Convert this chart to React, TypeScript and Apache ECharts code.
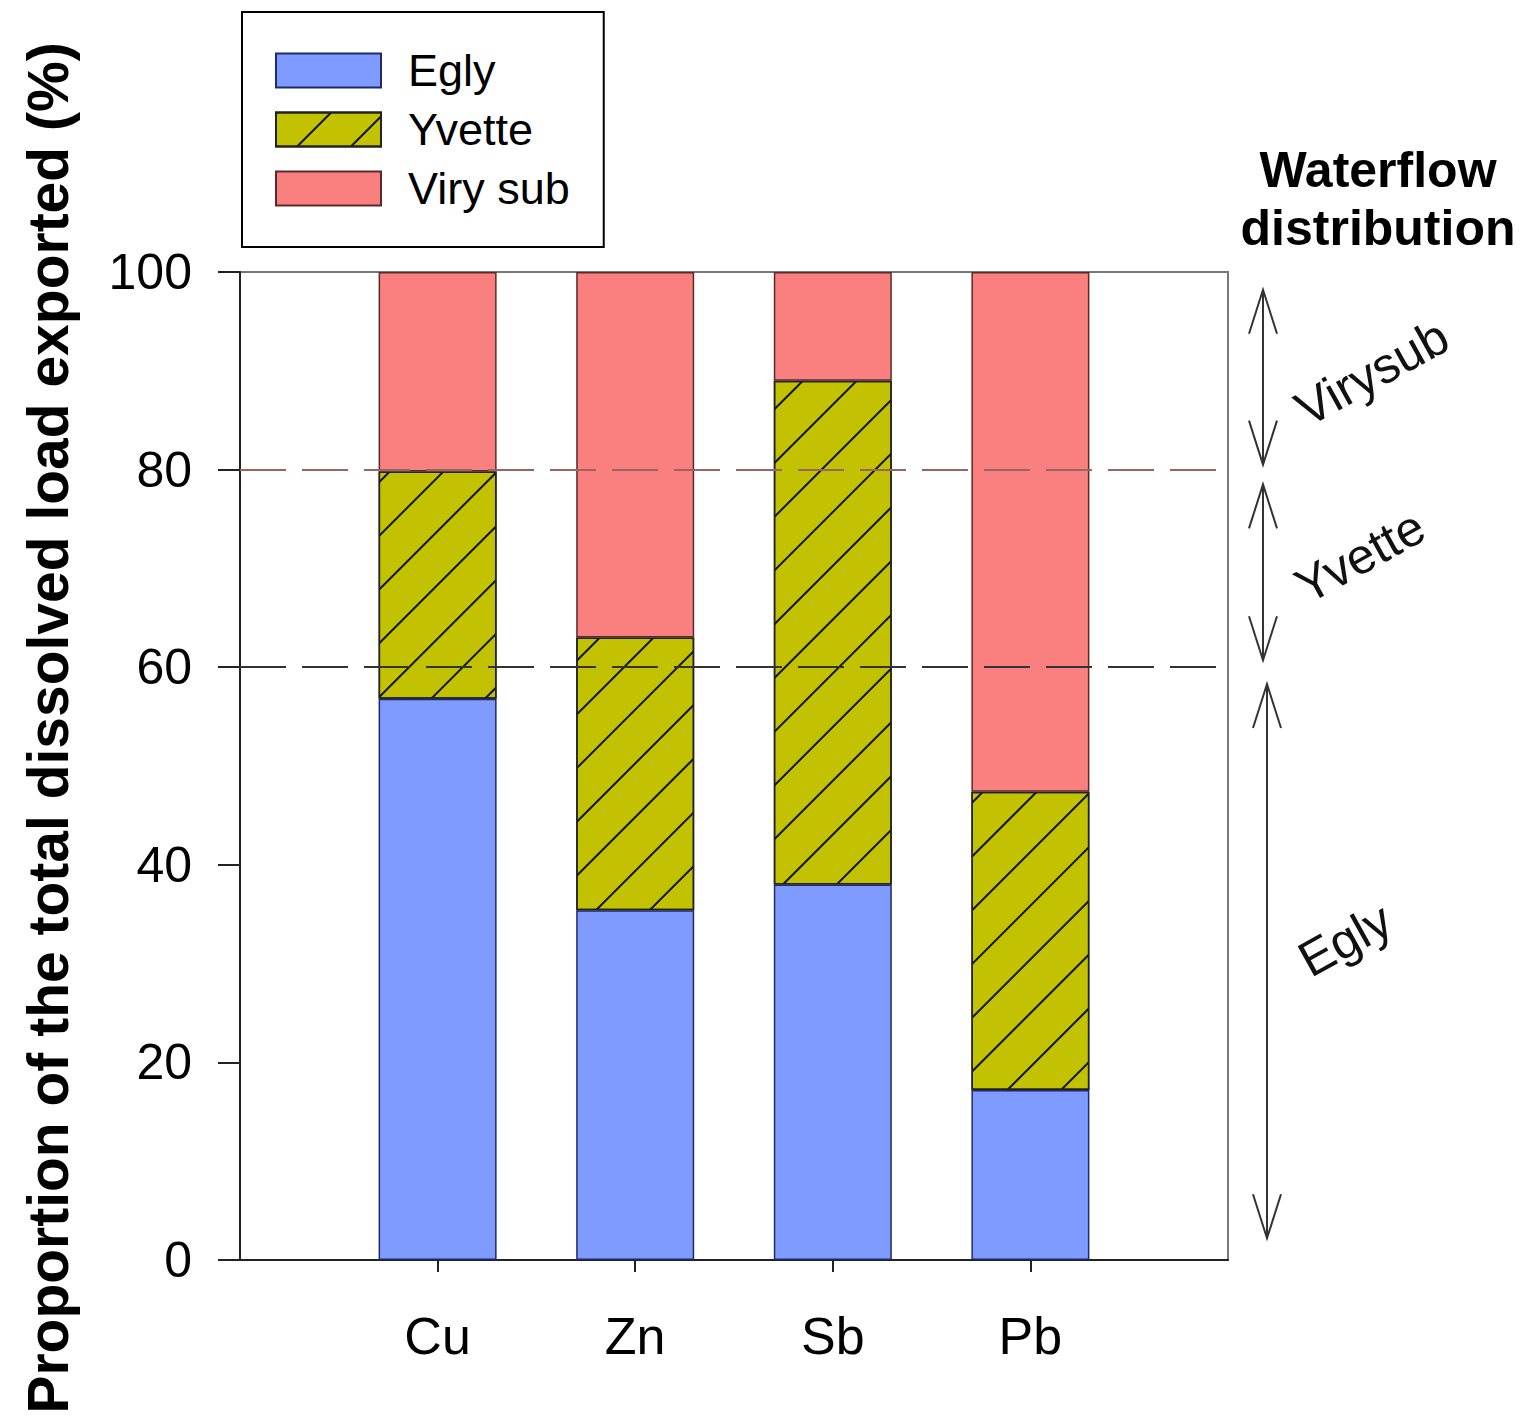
import React, { useEffect, useRef } from "react";
import * as echarts from "echarts";

const categories = ["Cu", "Zn", "Sb", "Pb"];
const egly = [56.8, 35.4, 38.0, 17.2];
const yvette = [23.0, 27.6, 51.0, 30.2];
const virySub = [20.2, 37.0, 11.0, 52.6];
const seriesNames = ["Egly", "Yvette", "Viry sub"];
const refLines = [80, 60];
const arrowRanges = [
  [98.2, 80.5],
  [78.5, 60.7],
  [58.3, 2.2],
];
const arrowLabels = ["Virysub", "Yvette", "Egly"];
const arrowLabelY = [89.8, 71.2, 32.4];

const FONT = "'Liberation Sans', Arial, sans-serif";

export default function App() {
  const ref = useRef<HTMLDivElement>(null);
  useEffect(() => {
    if (!ref.current) return;
    const chart = echarts.init(ref.current, undefined, { renderer: "svg" });
    const pad = (arr: number[]) => ["-", ...arr, "-"];
    const barCommon = {
      type: "bar",
      stack: "total",
      barWidth: 118,
    };
    const option: any = {
      animation: false,
      backgroundColor: "#fff",
      textStyle: { fontFamily: FONT },
      grid: {
        left: 240,
        top: 272,
        right: 296,
        bottom: 166,
        show: true,
        borderColor: "#777",
        borderWidth: 2,
        backgroundColor: "transparent",
        containLabel: false,
        outerBoundsMode: "none",
      },
      legend: {
        orient: "vertical",
        left: 242,
        top: 12,
        padding: [36, 34, 36, 33],
        itemGap: 14,
        itemWidth: 105,
        itemHeight: 34,
        icon: "rect",
        borderColor: "#000",
        borderWidth: 2,
        selectedMode: false,
        data: seriesNames,
        textStyle: { fontSize: 45, color: "#000", fontFamily: FONT, padding: [0, 0, 0, 22] },
      },
      xAxis: {
        type: "category",
        boundaryGap: false,
        data: ["", ...categories, ""],
        axisLine: { lineStyle: { color: "#222", width: 2 } },
        axisTick: {
          length: 12,
          lineStyle: { color: "#222", width: 2 },
          interval: (i: number) => i > 0 && i < categories.length + 1,
        },
        axisLabel: { fontSize: 52, color: "#000", margin: 50, fontFamily: FONT },
        splitLine: { show: false },
      },
      yAxis: {
        type: "value",
        min: 0,
        max: 100,
        interval: 20,
        name: "Proportion of the total dissolved load exported (%)",
        nameLocation: "middle",
        nameGap: 164,
        nameTextStyle: {
          fontSize: 57,
          fontWeight: "bold",
          color: "#000",
          fontFamily: FONT,
          padding: [0, 0, 0, 76],
        },
        axisLine: { show: true, lineStyle: { color: "#222", width: 2 } },
        axisTick: { show: true, length: 22, lineStyle: { color: "#222", width: 2 } },
        axisLabel: { fontSize: 50, color: "#000", margin: 48, fontFamily: FONT },
        splitLine: { show: false },
      },
      series: [
        {
          ...barCommon,
          name: seriesNames[0],
          data: pad(egly),
          itemStyle: { color: "#7f9bff", borderColor: "#1f2a6a", borderWidth: 1.5 },
        },
        {
          ...barCommon,
          name: seriesNames[1],
          data: pad(yvette),
          itemStyle: {
            color: "#c2c200",
            borderColor: "#222",
            borderWidth: 1.5,
            decal: {
              symbol: "rect",
              symbolSize: 1,
              dashArrayX: [1, 0],
              dashArrayY: [2, 36],
              rotation: -Math.PI / 4,
              color: "#111",
            },
          },
        },
        {
          ...barCommon,
          name: seriesNames[2],
          data: pad(virySub),
          itemStyle: { color: "#fa8080", borderColor: "#5a2a2a", borderWidth: 1.5 },
          markLine: {
            silent: true,
            symbol: "none",
            label: { show: false },
            data: refLines.map((v, i) => ({
              yAxis: v,
              lineStyle: {
                color: i === 0 ? "#9a6464" : "#333",
                width: 2,
                type: [46, 16],
              },
            })),
          },
        },
      ],
    };
    chart.setOption(option);

    const graphics: any[] = [];
    const lineColor = "#333";
    arrowRanges.forEach((r, i) => {
      const x = i === 2 ? 1267 : 1263;
      const yTop = chart.convertToPixel({ yAxisIndex: 0 }, r[0]) as number;
      const yBot = chart.convertToPixel({ yAxisIndex: 0 }, r[1]) as number;
      graphics.push({
        type: "line",
        shape: { x1: x, y1: yTop, x2: x, y2: yBot },
        style: { stroke: lineColor, lineWidth: 2 },
      });
      graphics.push({
        type: "polyline",
        shape: { points: [[x - 14, yTop + 44], [x, yTop], [x + 14, yTop + 44]] },
        style: { stroke: lineColor, lineWidth: 2, fill: null },
      });
      graphics.push({
        type: "polyline",
        shape: { points: [[x - 14, yBot - 44], [x, yBot], [x + 14, yBot - 44]] },
        style: { stroke: lineColor, lineWidth: 2, fill: null },
      });
      const ty = chart.convertToPixel({ yAxisIndex: 0 }, arrowLabelY[i]) as number;
      const tx = [1372, 1360, 1345][i];
      graphics.push({
        type: "text",
        x: tx,
        y: ty,
        rotation: (29 * Math.PI) / 180,
        style: {
          text: arrowLabels[i],
          fontSize: 50,
          fontFamily: FONT,
          fill: "#111",
          align: "center",
          verticalAlign: "middle",
        },
      });
    });
    graphics.push({
      type: "text",
      x: 1378,
      y: 199,
      style: {
        text: "Waterflow\ndistribution",
        fontSize: 50,
        fontWeight: "bold",
        fontFamily: FONT,
        fill: "#000",
        align: "center",
        verticalAlign: "middle",
        lineHeight: 58,
      },
    });
    chart.setOption({ graphic: graphics });

    return () => chart.dispose();
  }, []);
  return (
    <div
      ref={ref}
      style={{ position: "absolute", left: 0, top: 0, width: 1524, height: 1426 }}
    />
  );
}
